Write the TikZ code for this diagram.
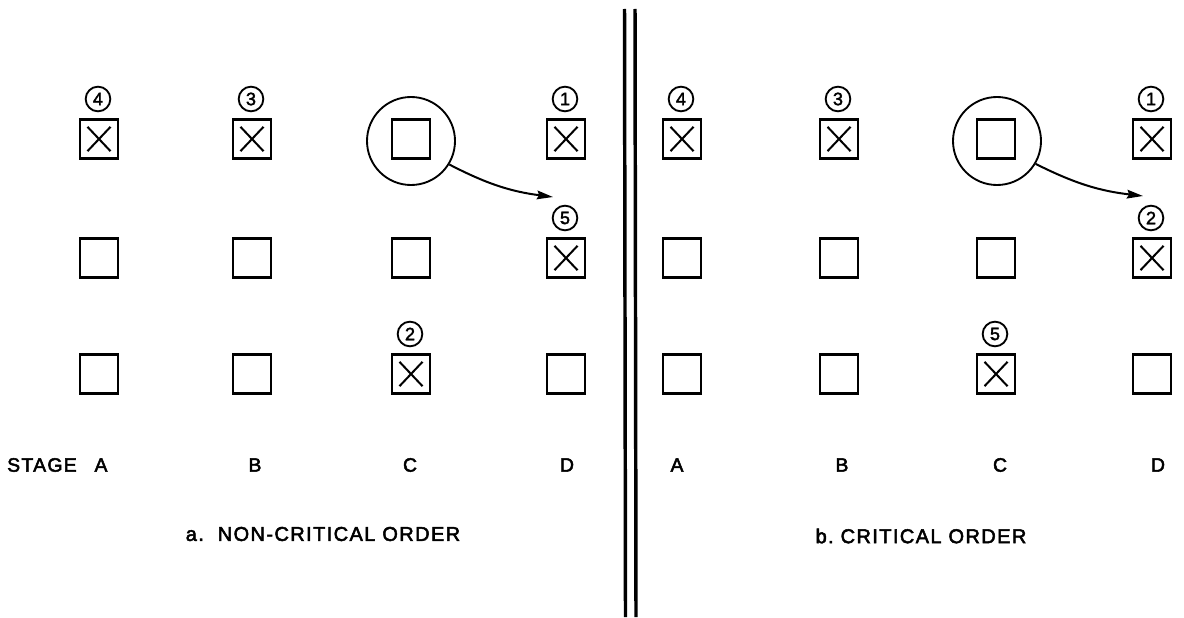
\documentclass[tikz,border=0pt]{standalone}
\usepackage{fontspec}
\setmainfont{Liberation Sans}
\newfontfamily\lettering[LetterSpace=7,FakeBold=2.6]{Liberation Sans}
\newfontfamily\digits[FakeBold=2.2]{Liberation Sans}
\usetikzlibrary{arrows.meta}
\begin{document}
\begin{tikzpicture}[x=0.75pt,y=-0.75pt,
  cell/.style={draw, line width=2.1pt, minimum width=28.5pt, minimum height=29.5pt, inner sep=0pt},
  crossed/.style={cell, path picture={
      \draw[line width=1.5pt]
        ([shift={(5.6pt,5.6pt)}]path picture bounding box.south west) --
        ([shift={(-5.6pt,-5.6pt)}]path picture bounding box.north east)
        ([shift={(5.6pt,-5.6pt)}]path picture bounding box.north west) --
        ([shift={(-5.6pt,5.6pt)}]path picture bounding box.south east);}},
  seq/.style={draw, circle, line width=1.4pt, minimum size=18.5pt, inner sep=0pt, font=\digits\fontsize{13.5}{14}\selectfont},
  ring/.style={draw, circle, line width=1.4pt, minimum size=66pt, inner sep=0pt},
  flow/.style={line width=1.5pt, -{Stealth[length=12pt,width=6.5pt,inset=1.5pt]}},
  divider/.style={line width=2.6pt},
  stagelbl/.style={font=\lettering\fontsize{14.5}{16}\selectfont, inner sep=0pt},
  caption/.style={font=\lettering\fontsize{15}{17}\selectfont, inner sep=0pt}]
\useasboundingbox (0,0) rectangle (1184,617);

% ---- panel a: non-critical order ----
\foreach \nm/\x/\y in {LA2/99/258, LA3/99/374, LB2/252/258, LB3/252/374, LC1/411/139, LC2/411/258, LD3/566/374}
  \node[cell] (\nm) at (\x,\y) {};
\foreach \nm/\x/\y/\k in {LA1/99/139/4, LB1/252/139/3, LD1/566/139/1, LD2/566/258/5, LC3/411/374/2} {
  \node[crossed] (\nm) at (\x,\y) {};
  \node[seq] (\nm-n) at (\x-1,\y-40) {\k};
}
\node[ring] (LR) at (411,141) {};
\coordinate (LT) at (553,197);
\draw[flow] (LR) to[bend right=10] (LT);

\node[stagelbl] (stage) at (42,465) {STAGE};
\foreach \nm/\x/\t in {La/101/A, Lb/255/B, Lc/410/C, Ld/567/D}
  \node[stagelbl] (\nm) at (\x,465) {\t};
\node[caption] (capa) at (323,534) {a.\ \ NON-CRITICAL ORDER};

% ---- divider ----
\coordinate (d1t) at (624.5,9);
\coordinate (d1b) at (625.5,617);
\coordinate (d2t) at (635,9);
\coordinate (d2b) at (636,617);
\draw[divider] (d1t) -- (d1b);
\draw[divider] (d2t) -- (d2b);

% ---- panel b: critical order ----
\foreach \nm/\x/\y in {RA2/682/258, RA3/682/374, RB2/839/258, RB3/839/374, RC1/996/139, RC2/996/258, RD3/1152/374}
  \node[cell] (\nm) at (\x,\y) {};
\foreach \nm/\x/\y/\k in {RA1/682/139/4, RB1/839/139/3, RD1/1152/139/1, RD2/1152/258/2, RC3/996/374/5} {
  \node[crossed] (\nm) at (\x,\y) {};
  \node[seq] (\nm-n) at (\x-1,\y-40) {\k};
}
\node[ring] (RR) at (997,141) {};
\coordinate (RT) at (1143,196);
\draw[flow] (RR) to[bend right=10] (RT);

\foreach \nm/\x/\t in {Ra/677/A, Rb/842/B, Rc/1000/C, Rd/1158/D}
  \node[stagelbl] (\nm) at (\x,465) {\t};
\node[caption] (capb) at (921,536) {b.\ CRITICAL ORDER};
\end{tikzpicture}
\end{document}
